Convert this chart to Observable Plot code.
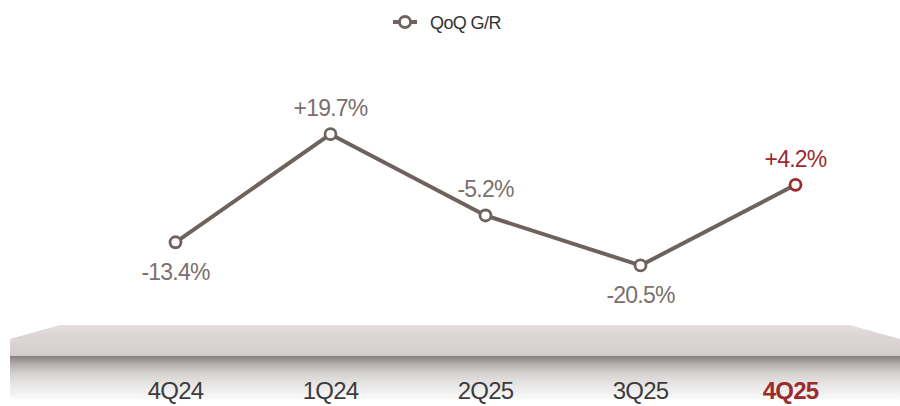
<!DOCTYPE html>
<html>
<head>
<meta charset="utf-8">
<script src="https://cdn.jsdelivr.net/npm/d3@7"></script>
<script src="https://cdn.jsdelivr.net/npm/@observablehq/plot@0.6"></script>
<style>
  html, body { margin: 0; padding: 0; background: #fff; }
  #wrap { position: relative; width: 900px; height: 406px; overflow: hidden; font-family: "Liberation Sans", Arial, sans-serif; }
  .shelf-top { position: absolute; left: 0; top: 325px; width: 900px; height: 14px;
    clip-path: polygon(60px 0, 850px 0, 900px 14px, 10px 14px);
    background: linear-gradient(to bottom, #e5dfdf, #dad2d2); }
  .shelf-front { position: absolute; left: 10px; top: 339px; width: 890px; height: 17px;
    background: linear-gradient(to bottom, #ded6d6, #d3caca); }
  .shelf-shadow { position: absolute; left: 10px; top: 356px; width: 890px; height: 44px;
    background: linear-gradient(to bottom, #867d7d 0%, #b3acac 18%, #d6d2d2 40%, #ebe9e9 70%, #f8f8f8 95%, #ffffff 100%); }
  #legend { position: absolute; left: 0; top: 0; width: 900px; height: 44px; }
  #chart { position: absolute; left: 0; top: 0; }
  #chart svg text { letter-spacing: -0.8px; }
</style>
</head>
<body>
<div id="wrap">
  <div class="shelf-top"></div>
  <div class="shelf-front"></div>
  <div class="shelf-shadow"></div>
  <div id="legend"></div>
  <div id="chart"></div>
</div>
<script>
const quarters = ["4Q24", "1Q24", "2Q25", "3Q25", "4Q25"];
const qoqGR = [-13.4, 19.7, -5.2, -20.5, 4.2];
const seriesName = "QoQ G/R";

const GRAY = "#6e625f";
const LABEL_GRAY = "#7a6f6c";
const RED = "#9b2b2c";
const AXIS_GRAY = "#3c3c3c";

const last = quarters.length - 1;
const data = quarters.map((q, i) => {
  const v = qoqGR[i];
  const prev = i > 0 ? qoqGR[i - 1] : Infinity;
  const next = i < last ? qoqGR[i + 1] : Infinity;
  return {
    q, v,
    highlight: i === last,
    below: v < prev && v < next,
    label: (v > 0 ? "+" : "") + v.toFixed(1) + "%"
  };
});

// legend
const lg = d3.select("#legend").append("svg").attr("width", 900).attr("height", 44);
lg.append("line").attr("x1", 393).attr("x2", 417).attr("y1", 22).attr("y2", 22)
  .attr("stroke", GRAY).attr("stroke-width", 4);
lg.append("circle").attr("cx", 405).attr("cy", 22).attr("r", 5.5)
  .attr("fill", "#fff").attr("stroke", GRAY).attr("stroke-width", 2.8);
lg.append("text").attr("x", 430).attr("y", 29).text(seriesName)
  .attr("font-family", "'Liberation Sans', Arial, sans-serif").attr("font-size", 18)
  .attr("fill", "#333").attr("letter-spacing", "-0.6px");

const chart = Plot.plot({
  width: 900,
  height: 406,
  marginLeft: 175,
  marginRight: 105,
  marginTop: 100,
  marginBottom: 110,
  style: { background: "transparent", fontFamily: "'Liberation Sans', Arial, sans-serif", overflow: "visible" },
  x: { type: "point", domain: quarters, padding: 0, axis: null, label: null },
  y: { domain: [-30, 30], axis: null, label: null },
  marks: [
    Plot.line(data, { x: "q", y: "v", stroke: GRAY, strokeWidth: 4 }),
    Plot.dot(data, { x: "q", y: "v", r: 5.5, fill: "#fff", stroke: d => d.highlight ? RED : GRAY, strokeWidth: 2.8 }),
    Plot.text(data.filter(d => !d.below), {
      x: "q", y: "v", text: "label", lineAnchor: "bottom", dy: -18,
      fontSize: 23, fill: d => d.highlight ? RED : LABEL_GRAY
    }),
    Plot.text(data.filter(d => d.below), {
      x: "q", y: "v", text: "label", lineAnchor: "top", dy: 21,
      fontSize: 23, fill: d => d.highlight ? RED : LABEL_GRAY
    }),
    Plot.axisX(quarters.slice(0, last), { label: null, tickSize: 0, tickPadding: 85, fontSize: 24, fill: AXIS_GRAY }),
    Plot.axisX(quarters.slice(last), { label: null, tickSize: 0, tickPadding: 85, fontSize: 24, fill: RED, fontWeight: "bold", dx: -5 })
  ]
});
document.getElementById("chart").appendChild(chart);
</script>
</body>
</html>
